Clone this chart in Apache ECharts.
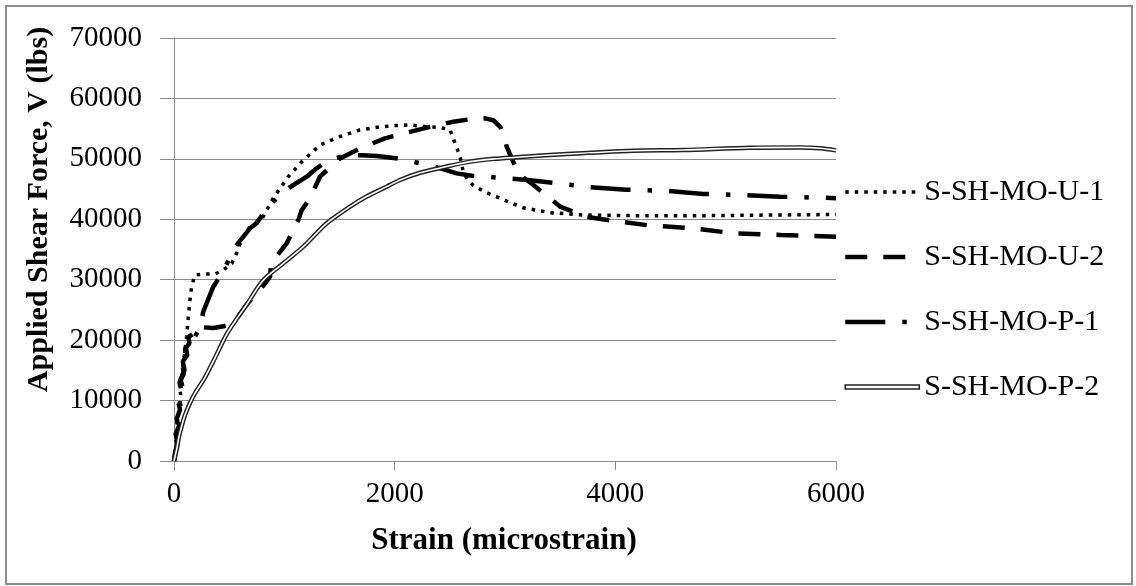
<!DOCTYPE html>
<html><head><meta charset="utf-8">
<script src="https://cdn.jsdelivr.net/npm/echarts@6/dist/echarts.min.js"></script>
<style>html,body{margin:0;padding:0;background:#fff}#c{width:1136px;height:586px}</style>
</head><body><div id="c"></div>
<script>
const seriesNames = ['S-SH-MO-U-1', 'S-SH-MO-U-2', 'S-SH-MO-P-1', 'S-SH-MO-P-2'];
const xTickLabels = ['0', '2000', '4000', '6000'];
const yTickLabels = ['0', '10000', '20000', '30000', '40000', '50000', '60000', '70000'];
const xTitle = 'Strain (microstrain)';
const yTitle = 'Applied Shear Force, V (lbs)';

// [strain (microstrain), shear force (lbs)]
const u1 = [[0,0],[20,2000],[35,5000],[25,6500],[45,8000],[60,11000],[50,12500],[70,13500],[85,16200],[100,18500],[115,20600],[130,23900],[145,26700],[160,28900],[190,30800],[281,30950],[372,30950],[447,31600],[523,32700],[568,34400],[613,36600],[689,38800],[795,40000],[900,43500],[1036,47050],[1157,49500],[1323,52300],[1505,53700],[1686,54800],[1867,55300],[2000,55500],[2139,55600],[2300,55300],[2411,55200],[2502,54800],[2547,52600],[2592,50400],[2620,48000],[2660,46600],[2713,45600],[2834,44400],[2925,43700],[3016,43000],[3166,41900],[3408,41100],[3710,40700],[4200,40600],[4800,40600],[5400,40700],[6000,40800]];
const u2 = [[0,0],[15,1500],[30,3000],[10,4000],[40,5500],[25,7000],[55,8500],[35,10000],[70,11500],[50,13000],[90,14500],[75,16000],[110,17000],[100,18500],[140,19500],[130,20500],[170,21000],[205,22200],[356,22000],[450,22300],[538,22800],[659,25900],[810,29000],[870,30500],[880,32700],[961,34600],[1021,36000],[1081,38200],[1127,39900],[1157,41500],[1233,43500],[1323,47050],[1500,50000],[1686,51750],[1912,53400],[2078,54200],[2320,55300],[2531,56150],[2700,56600],[2820,56700],[2894,56400],[2960,55200],[2985,54000],[3016,52000],[3106,48200],[3160,47000],[3250,45800],[3350,44300],[3499,42100],[3740,40400],[4000,39700],[4300,39000],[4707,38500],[5070,37700],[5500,37400],[6000,37100]];
const p1 = [[0,0],[10,1500],[35,3000],[15,4500],[50,6000],[30,7500],[60,9000],[40,10500],[80,12000],[60,13500],[95,15000],[80,16500],[120,17500],[105,19000],[175,20000],[235,22200],[265,24700],[356,28850],[450,31500],[523,34400],[583,36100],[689,38500],[750,39400],[850,42000],[931,43500],[1050,45300],[1203,47050],[1293,48440],[1338,49000],[1450,50000],[1565,50640],[1700,50600],[1837,50480],[1897,50360],[2048,50000],[2230,49270],[2400,48500],[2562,47600],[2700,47200],[2834,47050],[3016,46780],[3208,46500],[3500,45900],[3743,45340],[4100,44900],[4470,44700],[4797,44200],[5160,44000],[5493,43740],[6000,43500]];
const p2 = [[0,0],[25,2000],[45,4000],[70,5800],[100,7600],[150,9800],[190,11200],[280,13800],[370,17000],[478,21000],[560,23300],[659,25900],[810,29950],[991,32720],[1172,35470],[1384,39340],[1595,42090],[1750,43800],[1928,45400],[2048,46500],[2230,47700],[2441,48600],[2683,49540],[2900,50000],[3106,50260],[3559,50810],[4163,51350],[4616,51470],[5221,51850],[5674,51900],[5855,51750],[6000,51400]];

const serif = '"Liberation Serif", "Times New Roman", serif';
const gridGray = '#8c8c8c';
const chart = echarts.init(document.getElementById('c'), null, {renderer: 'canvas'});

const lineBase = {type: 'line', showSymbol: false, symbol: 'none', animation: false, silent: true};

chart.setOption({
  animation: false,
  backgroundColor: '#fff',
  grid: {left: 174, right: 300, top: 38, bottom: 125, containLabel: false},
  xAxis: {
    type: 'value', min: 0, max: 6000, interval: 2000,
    axisLine: {show: true, onZero: false, lineStyle: {color: gridGray, width: 1}},
    axisTick: {show: true, inside: false, length: 9, lineStyle: {color: gridGray}},
    axisLabel: {margin: 19, fontSize: 29, fontFamily: serif, color: '#000',
      formatter: v => xTickLabels[Math.round(v / 2000)]},
    splitLine: {show: false}
  },
  yAxis: {
    type: 'value', min: 0, max: 70000, interval: 10000,
    axisLine: {show: true, lineStyle: {color: gridGray, width: 1}},
    axisTick: {show: true, inside: false, length: 14, lineStyle: {color: gridGray}},
    axisLabel: {margin: 32, fontSize: 29, fontFamily: serif, color: '#000',
      formatter: v => yTickLabels[Math.round(v / 10000)]},
    splitLine: {show: true, lineStyle: {color: gridGray, width: 1}}
  },
  legend: {
    orient: 'vertical', left: 843, top: 177, padding: 0, itemGap: 35,
    itemWidth: 74, itemHeight: 14, selectedMode: false,
    textStyle: {fontFamily: serif, fontSize: 30, color: '#000'},
    itemStyle: {opacity: 0},
    data: [
      {name: seriesNames[0], lineStyle: {color: '#000', width: 3.5, type: [3.5, 6], opacity: 1}},
      {name: seriesNames[1], lineStyle: {color: '#000', width: 4.5, type: [22, 16], opacity: 1}},
      {name: seriesNames[2], lineStyle: {color: '#000', width: 4.5, type: [40, 17, 4.5, 17], opacity: 1}},
      {name: seriesNames[3], icon: 'path://M0,0L74,0L74,4L0,4Z',
        itemStyle: {color: '#fff', borderColor: '#222', borderWidth: 1.6, opacity: 1}}
    ]
  },
  graphic: [
    {type: 'rect', silent: true, z: 0, shape: {x: 6, y: 6, width: 1126, height: 578},
      style: {fill: 'none', stroke: '#8c8c8c', lineWidth: 2}},
    {type: 'text', silent: true, x: 39, y: 209.5, rotation: Math.PI / 2,
      style: {text: yTitle, font: 'bold 30px ' + serif, fill: '#000', align: 'center', verticalAlign: 'middle'}},
    {type: 'text', silent: true, x: 504, y: 541,
      style: {text: xTitle, font: 'bold 31px ' + serif, fill: '#000', align: 'center', verticalAlign: 'middle'}}
  ],
  series: [
    Object.assign({}, lineBase, {name: seriesNames[0], data: u1, z: 3,
      lineStyle: {color: '#000', width: 3.5, type: [3.5, 6]}, itemStyle: {color: '#000'}}),
    Object.assign({}, lineBase, {name: seriesNames[1], data: u2, z: 3,
      lineStyle: {color: '#000', width: 4.5, type: [22, 16]}, itemStyle: {color: '#000'}}),
    Object.assign({}, lineBase, {name: seriesNames[2], data: p1, z: 3,
      lineStyle: {color: '#000', width: 4.5, type: [40, 17, 4.5, 17]}, itemStyle: {color: '#000'}}),
    Object.assign({}, lineBase, {name: seriesNames[3], data: p2, z: 4, smooth: 0.3,
      lineStyle: {color: '#222', width: 4.5, join: 'round'}, itemStyle: {color: '#222'}}),
    Object.assign({}, lineBase, {name: 'P-2 core', data: p2, z: 5, smooth: 0.3,
      lineStyle: {color: '#fff', width: 1.6, join: 'round'}, itemStyle: {color: '#fff'}})
  ]
});
</script>
</body></html>
